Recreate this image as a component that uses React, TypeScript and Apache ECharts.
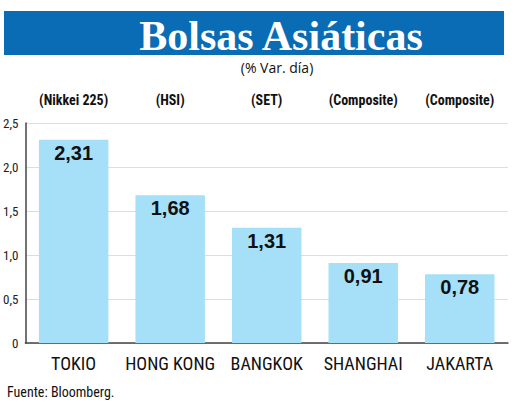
import * as echarts from "echarts";
import { useEffect, useRef } from "react";

const cities = ["TOKIO", "HONG KONG", "BANGKOK", "SHANGHAI", "JAKARTA"];
const indexNames = ["(Nikkei 225)", "(HSI)", "(SET)", "(Composite)", "(Composite)"];
const changes = [2.31, 1.68, 1.31, 0.91, 0.78];
const yTicks = [0, 0.5, 1, 1.5, 2, 2.5];

const fmt = (v: number, digits: number) =>
  v === 0 ? "0" : v.toFixed(digits).replace(".", ",");

const narrow = "'Liberation Sans Narrow', 'Roboto Condensed', 'Liberation Sans', sans-serif";

export default function App() {
  const ref = useRef<HTMLDivElement | null>(null);

  useEffect(() => {
    if (!ref.current) {
      return;
    }

    const chart = echarts.init(ref.current, undefined, { renderer: "svg" });
    chart.setOption({
      animation: false,
      backgroundColor: "#ffffff",
      title: {
        text: "Bolsas Asiáticas",
        left: 276,
        top: 8,
        textAlign: "center",
        textStyle: {
          color: "#ffffff",
          fontFamily: "'Liberation Serif', serif",
          fontWeight: "bold",
          fontSize: 42,
          lineHeight: 46,
        },
      },
      graphic: [
        {
          type: "rect",
          z: -1,
          shape: { x: 4, y: 11, width: 500, height: 44 },
          style: { fill: "#0a6cb4" },
        },
        {
          type: "text",
          x: 277,
          y: 67,
          style: {
            text: "(% Var. día)",
            textAlign: "center",
            textVerticalAlign: "middle",
            fontFamily: "'Open Sans', sans-serif",
            fontSize: 14,
            fill: "#111111",
          },
        },
        {
          type: "text",
          x: 7,
          y: 392,
          style: {
            text: "Fuente: Bloomberg.",
            textVerticalAlign: "middle",
            fontFamily: narrow,
            fontSize: 14,
            fill: "#111111",
          },
        },
      ],
      grid: { left: 23, right: 12, top: 123, bottom: 66 },
      xAxis: [
        {
          type: "category",
          data: cities,
          axisLine: { lineStyle: { color: "#444444", width: 1.5 } },
          axisTick: { show: false },
          axisLabel: {
            interval: 0,
            margin: 11,
            color: "#111111",
            fontFamily: narrow,
            fontSize: 18,
          },
        },
        {
          type: "category",
          position: "top",
          data: indexNames,
          axisLine: { show: false },
          axisTick: { show: false },
          axisLabel: {
            interval: 0,
            margin: 16,
            color: "#111111",
            fontFamily: narrow,
            fontWeight: "bold",
            fontSize: 14,
          },
        },
      ],
      yAxis: {
        type: "value",
        min: yTicks[0],
        max: yTicks[yTicks.length - 1],
        interval: 0.5,
        axisLine: { show: true, lineStyle: { color: "#444444", width: 1.5 } },
        axisTick: { show: false },
        axisLabel: {
          margin: 7,
          color: "#222222",
          fontFamily: narrow,
          fontSize: 13,
          formatter: (v: number) => fmt(v, 1),
        },
        splitLine: { lineStyle: { color: "#dddddd", width: 1 } },
      },
      series: [
        {
          type: "bar",
          data: changes,
          barCategoryGap: "28%",
          itemStyle: { color: "#a6e0f8" },
          label: {
            show: true,
            position: "insideTop",
            distance: 3,
            color: "#111111",
            fontFamily: "'Liberation Sans', sans-serif",
            fontWeight: "bold",
            fontSize: 20,
            formatter: (p: { value: number }) => fmt(p.value, 2),
          },
        },
      ],
    });

    return () => {
      chart.dispose();
    };
  }, []);

  return (
    <div
      ref={ref}
      style={{ position: "fixed", left: 0, top: 0, width: 520, height: 409 }}
    />
  );
}
